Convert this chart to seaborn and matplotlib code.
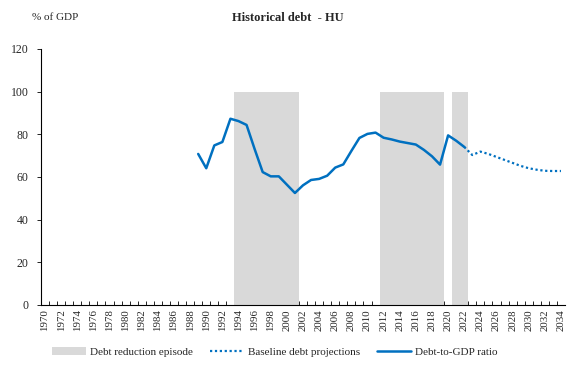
import matplotlib
matplotlib.use("Agg")
import matplotlib.pyplot as plt
import seaborn as sns
import pandas as pd

# debt-to-GDP ratio, actuals
hist_years = list(range(1989, 2023))
hist_debt = [70.8, 64.1, 74.8, 76.4, 87.3, 86.2, 84.4, 73.1, 62.3, 60.3,
             60.3, 56.4, 52.5, 56.1, 58.6, 59.1, 60.6, 64.4, 65.9, 72.2,
             78.3, 80.2, 80.8, 78.4, 77.6, 76.6, 75.9, 75.2, 72.7, 69.7,
             65.8, 79.5, 77.0, 74.1]

# baseline projections (start from last actual)
proj_years = list(range(2022, 2035))
proj_debt = [74.1, 70.3, 71.9, 70.8, 69.4, 68.0, 66.6, 65.2, 64.1, 63.4,
             62.9, 62.8, 62.8]

# debt reduction episodes
episode_years = list(range(1994, 2002)) + list(range(2012, 2020)) + [2021, 2022]
episode_vals = [100] * len(episode_years)

all_years = list(range(1970, 2035))

BLUE = "#0070C0"
GREY = "#D9D9D9"

sns.set_style("white")
plt.rcParams["font.family"] = ["Liberation Serif", "DejaVu Serif"]

fig = plt.figure(figsize=(5.75, 3.91), dpi=100)
ax = fig.add_axes([0.0713, 0.22, 0.9113, 0.6547])

ep = pd.DataFrame({"year": episode_years, "val": episode_vals})
sns.barplot(data=ep, x="year", y="val", native_scale=True, width=1.0,
            color=GREY, saturation=1, linewidth=0, ax=ax,
            label="Debt reduction episode")

proj = pd.DataFrame({"year": proj_years, "debt": proj_debt})
sns.lineplot(data=proj, x="year", y="debt", color=BLUE, lw=1.6,
             linestyle=(0, (1, 1.2)), ax=ax, label="Baseline debt projections")

hist = pd.DataFrame({"year": hist_years, "debt": hist_debt})
sns.lineplot(data=hist, x="year", y="debt", color=BLUE, lw=1.8, ax=ax,
             label="Debt-to-GDP ratio")

ax.set_xlim(1969.5, 2034.5)
ax.set_ylim(0, 120)
ax.set_yticks(range(0, 121, 20))
ax.set_xticks(all_years[::2])
ax.set_xticklabels([str(y) for y in all_years[::2]], rotation=90, fontsize=7.8)
ax.set_xticks([y + 0.5 for y in all_years[:-1]], minor=True)
ax.tick_params(axis="x", which="major", length=0, pad=3)
ax.tick_params(axis="x", which="minor", direction="in", length=3, width=0.6,
               color="black", bottom=True)
ax.tick_params(axis="y", direction="out", length=3, width=0.6, color="black",
               left=True, labelsize=8.5, pad=6)
ax.set_xlabel("")
ax.set_ylabel("")

for side in ["top", "right"]:
    ax.spines[side].set_visible(False)
for side in ["left", "bottom"]:
    ax.spines[side].set_color("black")
    ax.spines[side].set_linewidth(0.8)

fig.text(0.5, 0.955, "Historical debt  - HU", ha="center", va="center",
         fontsize=9, fontweight="bold")
fig.text(0.055, 0.955, "% of GDP", ha="left", va="center", fontsize=8)

handles, labels = ax.get_legend_handles_labels()
if ax.get_legend() is not None:
    ax.get_legend().remove()
order = ["Debt reduction episode", "Baseline debt projections", "Debt-to-GDP ratio"]
hmap = dict(zip(labels, handles))
fig.legend([hmap[l] for l in order], order, loc="center", ncol=3,
           bbox_to_anchor=(0.478, 0.1), frameon=False, fontsize=8,
           handlelength=3.0, columnspacing=1.6, handletextpad=0.35)

fig.savefig("out.png", dpi=100)
